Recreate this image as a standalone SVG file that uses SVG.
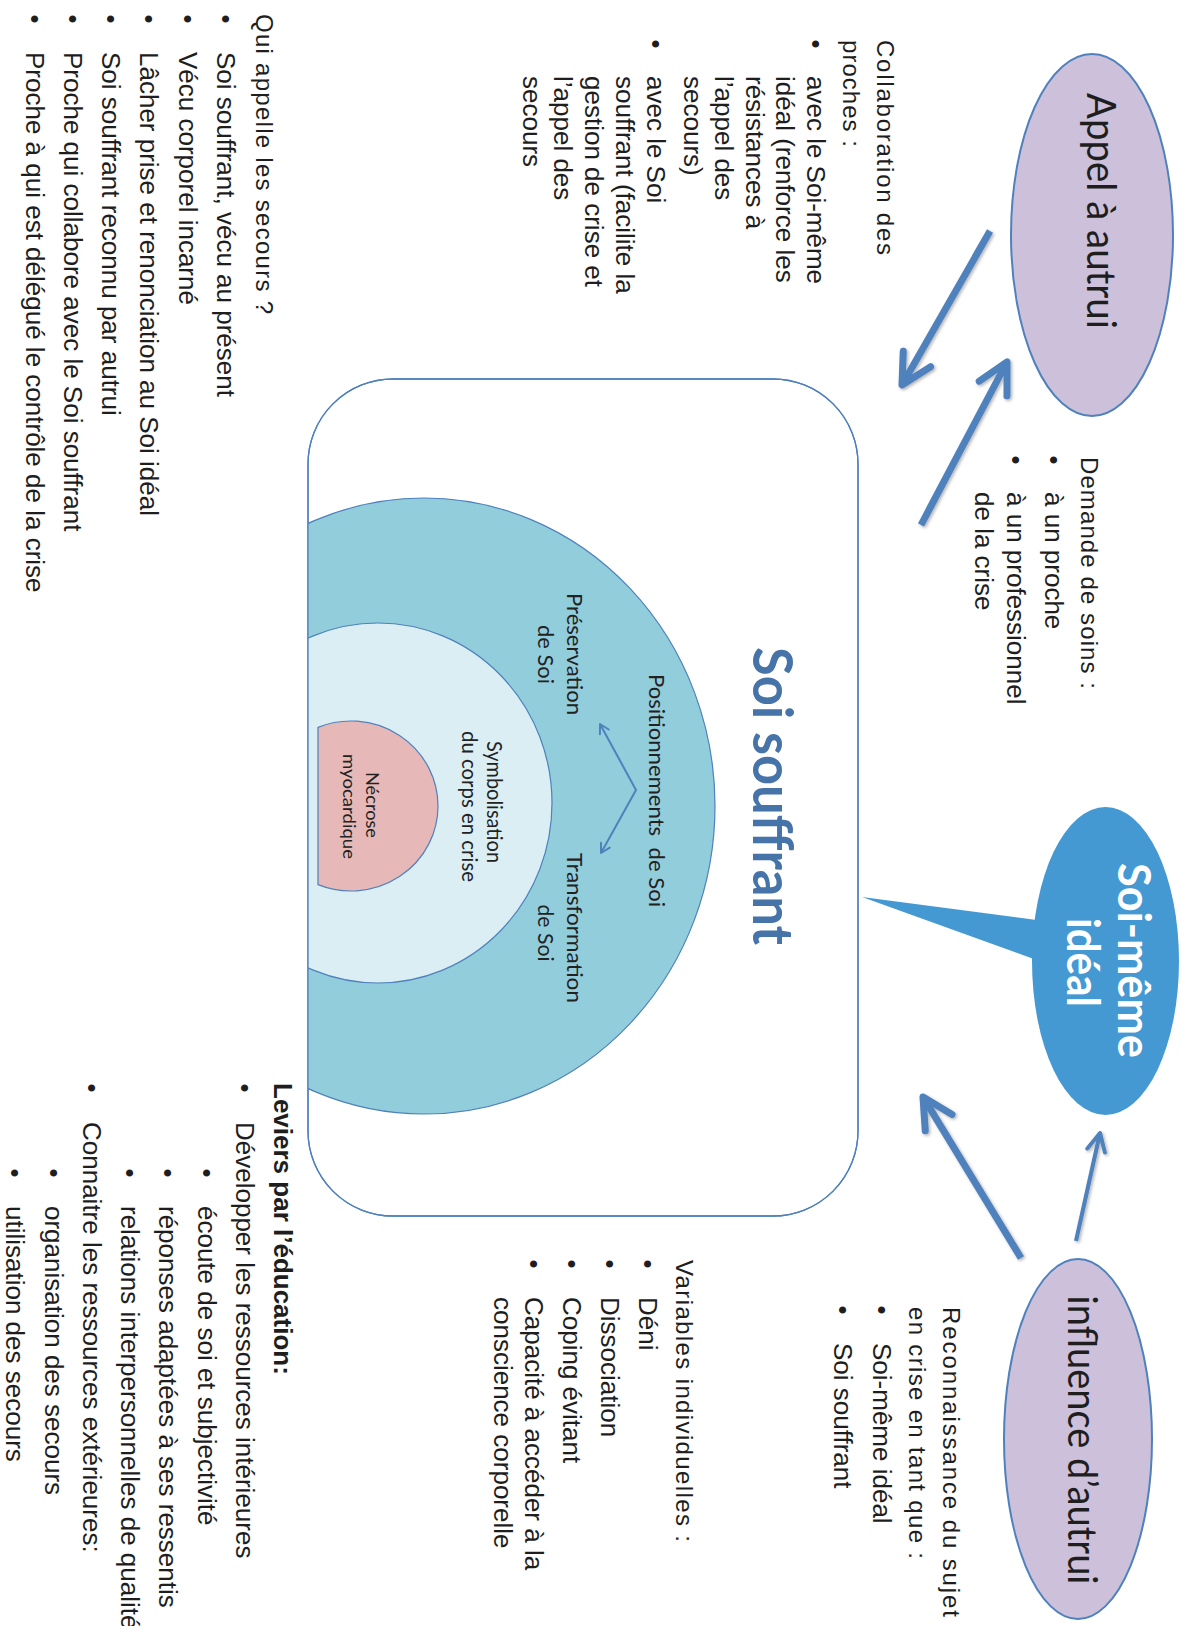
<svg xmlns="http://www.w3.org/2000/svg" width="1182" height="1626" viewBox="0 0 1182 1626">
<style>
.t{font-family:"Liberation Sans",Arial,sans-serif;font-size:26px;fill:#1e1e1e}
.h{font-family:"Liberation Sans",Arial,sans-serif;font-size:24px;fill:#1e1e1e}
.b{font-family:"Liberation Sans",Arial,sans-serif;font-size:26px;fill:#1e1e1e;text-anchor:middle}
.c{font-family:Lato,"Open Sans",sans-serif;fill:#222;text-anchor:middle}
.big{font-family:Lato,"Open Sans",sans-serif;font-size:40px;fill:#1e1e1e;text-anchor:middle}
.lav{fill:#ccc0da;stroke:#4f81bd;stroke-width:2}
.arc{stroke:#4f81bd;stroke-width:1.2}
.con{fill:none;stroke:#4f81bd;stroke-width:7}
</style>
<defs>
<filter id="sh" x="-20%" y="-20%" width="140%" height="140%">
<feDropShadow dx="1.5" dy="-1.5" stdDeviation="1.5" flood-color="#000" flood-opacity="0.3"/>
</filter>
<marker id="ahBig" markerUnits="userSpaceOnUse" orient="auto" refX="0" refY="0" markerWidth="40" markerHeight="40" overflow="visible">
<path d="M-30,-15.7 L0,0 L-30,15.7" fill="none" stroke="#4f81bd" stroke-width="7" stroke-linecap="round" stroke-linejoin="round"/>
</marker>
<marker id="ahMid" markerUnits="userSpaceOnUse" orient="auto" refX="0" refY="0" markerWidth="30" markerHeight="30" overflow="visible">
<path d="M-18,-9 L0,0 L-18,9" fill="none" stroke="#4f81bd" stroke-width="4" stroke-linecap="round" stroke-linejoin="round"/>
</marker>
<marker id="ahSmall" markerUnits="userSpaceOnUse" orient="auto-start-reverse" refX="0" refY="0" markerWidth="20" markerHeight="20" overflow="visible">
<path d="M-9,-5 L0,0 L-9,5" fill="none" stroke="#4f81bd" stroke-width="2" stroke-linecap="round" stroke-linejoin="round"/>
</marker>
<clipPath id="clipRect"><rect x="379" y="324" width="837" height="550" rx="85"/></clipPath>
</defs>
<g transform="translate(1182,0) rotate(90)">

<g id="soi-souffrant">
<rect x="379" y="324" width="837" height="550" rx="85" fill="#fff" stroke="#4f81bd" stroke-width="1.3"/>
<g clip-path="url(#clipRect)">
<ellipse class="arc" cx="806" cy="758" rx="308" ry="291" fill="#92cddc"/>
<ellipse class="arc" cx="803" cy="804" rx="180" ry="174" fill="#daeef3"/>
</g>
<path class="arc" d="M727.35,864 A85,87 0 1 1 884.65,864 Z" fill="#e6b9b8"/>
<rect x="379" y="324" width="837" height="550" rx="85" fill="none" stroke="#4f81bd" stroke-width="1.3"/>
<text x="796" y="429" font-family="Lato,'Open Sans',sans-serif" font-weight="700" font-size="56" fill="#4673a8" text-anchor="middle" textLength="298" lengthAdjust="spacingAndGlyphs">Soi souffrant</text>
<text class="c" x="790.5" y="533" font-size="21" xml:space="preserve" textLength="233" lengthAdjust="spacingAndGlyphs">Positionnements  de Soi</text>
<text class="c" x="654" y="615" font-size="21" textLength="122" lengthAdjust="spacingAndGlyphs">Préservation</text>
<text class="c" x="654.5" y="644" font-size="21" textLength="59" lengthAdjust="spacingAndGlyphs">de Soi</text>
<text class="c" x="928" y="615" font-size="21" textLength="150" lengthAdjust="spacingAndGlyphs">Transformation</text>
<text class="c" x="933" y="644" font-size="21" textLength="57" lengthAdjust="spacingAndGlyphs">de Soi</text>
<text class="c" x="802" y="695" font-size="21" textLength="122" lengthAdjust="spacingAndGlyphs">Symbolisation</text>
<text class="c" x="806.5" y="720" font-size="21" textLength="151" lengthAdjust="spacingAndGlyphs">du corps en crise</text>
<text class="c" x="805" y="816" font-size="18" textLength="66" lengthAdjust="spacingAndGlyphs">Nécrose</text>
<text class="c" x="806.5" y="839" font-size="18" textLength="105" lengthAdjust="spacingAndGlyphs">myocardique</text>
<path d="M724,582 L790,546 L853,581" fill="none" stroke="#4f81bd" stroke-width="2" marker-start="url(#ahSmall)" marker-end="url(#ahSmall)"/>
</g>

<g id="appel-a-autrui">
<ellipse class="lav" cx="235" cy="90" rx="181" ry="81"/>
<text class="big" x="211" y="95" textLength="236" lengthAdjust="spacingAndGlyphs">Appel à autrui</text>
</g>

<g id="soi-meme-ideal">
<ellipse cx="961" cy="76.5" rx="154" ry="73.5" fill="#4599d3"/>
<polygon points="921,138 897,320 962,140" fill="#4599d3"/>
<text x="960.5" y="64" font-family="Lato,'Open Sans',sans-serif" font-weight="700" font-size="45" fill="#fff" text-anchor="middle" textLength="195" lengthAdjust="spacingAndGlyphs">Soi-même</text>
<text x="962.5" y="115" font-family="Lato,'Open Sans',sans-serif" font-weight="700" font-size="45" fill="#fff" text-anchor="middle" textLength="89" lengthAdjust="spacingAndGlyphs">idéal</text>
</g>

<g id="influence-d-autrui">
<ellipse class="lav" cx="1439" cy="104" rx="180" ry="74"/>
<text class="big" x="1440" y="114" textLength="289" lengthAdjust="spacingAndGlyphs">influence d’autrui</text>
</g>

<g id="connectors" filter="url(#sh)">
<line class="con" x1="231" y1="192" x2="385" y2="280" marker-end="url(#ahBig)"/>
<line class="con" x1="525" y1="261" x2="362" y2="175" marker-end="url(#ahBig)"/>
<line class="con" x1="1258" y1="161" x2="1097" y2="259" marker-end="url(#ahBig)"/>
<line x1="1241" y1="106" x2="1133" y2="82" stroke="#4f81bd" stroke-width="4" marker-end="url(#ahMid)"/>
</g>

<g id="qui-appelle">
<text class="h" x="14" y="926" textLength="300" lengthAdjust="spacing">Qui appelle les secours ?</text>
<text class="b" x="19" y="965">•</text><text class="t" x="52" y="965">Soi souffrant, vécu au présent</text>
<text class="b" x="19" y="1003.3">•</text><text class="t" x="52" y="1003.3">Vécu corporel incarné</text>
<text class="b" x="19" y="1041.6">•</text><text class="t" x="52" y="1041.6">Lâcher prise et renonciation au Soi idéal</text>
<text class="b" x="19" y="1079.9">•</text><text class="t" x="52" y="1079.9">Soi souffrant reconnu par autrui</text>
<text class="b" x="19" y="1118.2">•</text><text class="t" x="52" y="1118.2">Proche qui collabore avec le Soi souffrant</text>
<text class="b" x="19" y="1156.5">•</text><text class="t" x="52" y="1156.5">Proche à qui est délégué le contrôle de la crise</text>
</g>

<g id="collaboration">
<text class="h" x="40" y="305" textLength="215" lengthAdjust="spacing">Collaboration des</text>
<text class="h" x="40" y="339" textLength="107" lengthAdjust="spacing">proches :</text>
<text class="b" x="44" y="375">•</text><text class="t" x="76" y="375">avec le Soi-même</text>
<text class="t" x="76" y="406">idéal (renforce les</text>
<text class="t" x="76" y="436">résistances à</text>
<text class="t" x="76" y="467">l’appel des</text>
<text class="t" x="76" y="498">secours)</text>
<text class="b" x="44" y="535">•</text><text class="t" x="76" y="535">avec le Soi</text>
<text class="t" x="76" y="566">souffrant (facilite la</text>
<text class="t" x="76" y="597">gestion de crise et</text>
<text class="t" x="76" y="628">l’appel des</text>
<text class="t" x="76" y="659">secours</text>
</g>

<g id="demande">
<text class="h" x="457" y="101" textLength="232" lengthAdjust="spacing">Demande de soins :</text>
<text class="b" x="460" y="137">•</text><text class="t" x="492" y="137">à un proche</text>
<text class="b" x="460" y="175">•</text><text class="t" x="492" y="175">à un professionnel</text>
<text class="t" x="492" y="207">de la crise</text>
</g>

<g id="reconnaissance">
<text class="h" x="1307" y="238.6" textLength="310" lengthAdjust="spacing">Reconnaissance du sujet</text>
<text class="h" x="1307" y="272.6" textLength="252" lengthAdjust="spacing">en crise en tant que :</text>
<text class="b" x="1310" y="309">•</text><text class="t" x="1343" y="309">Soi-même idéal</text>
<text class="b" x="1310" y="348">•</text><text class="t" x="1343" y="348">Soi souffrant</text>
</g>

<g id="variables">
<text class="h" x="1260" y="506" textLength="282" lengthAdjust="spacing">Variables individuelles :</text>
<text class="b" x="1264" y="543">•</text><text class="t" x="1297" y="543">Déni</text>
<text class="b" x="1264" y="581">•</text><text class="t" x="1297" y="581">Dissociation</text>
<text class="b" x="1264" y="619">•</text><text class="t" x="1297" y="619">Coping évitant</text>
<text class="b" x="1264" y="657">•</text><text class="t" x="1297" y="657">Capacité à accéder à la</text>
<text class="t" x="1297" y="688">conscience corporelle</text>
</g>

<g id="leviers">
<text class="t" x="1083" y="908" font-weight="700">Leviers par l’éducation:</text>
<text class="b" x="1088" y="946">•</text><text class="t" x="1122" y="946">Développer les ressources intérieures</text>
<text class="b" x="1173" y="984.4">•</text><text class="t" x="1206" y="984.4">écoute de soi et subjectivité</text>
<text class="b" x="1173" y="1022.6">•</text><text class="t" x="1206" y="1022.6">réponses adaptées à ses ressentis</text>
<text class="b" x="1173" y="1060.8">•</text><text class="t" x="1206" y="1060.8">relations interpersonnelles de qualité</text>
<text class="b" x="1088" y="1099">•</text><text class="t" x="1122" y="1099">Connaitre les ressources extérieures:</text>
<text class="b" x="1173" y="1137.2">•</text><text class="t" x="1206" y="1137.2">organisation des secours</text>
<text class="b" x="1173" y="1176">•</text><text class="t" x="1206" y="1176">utilisation des secours</text>
</g>

</g>
</svg>
